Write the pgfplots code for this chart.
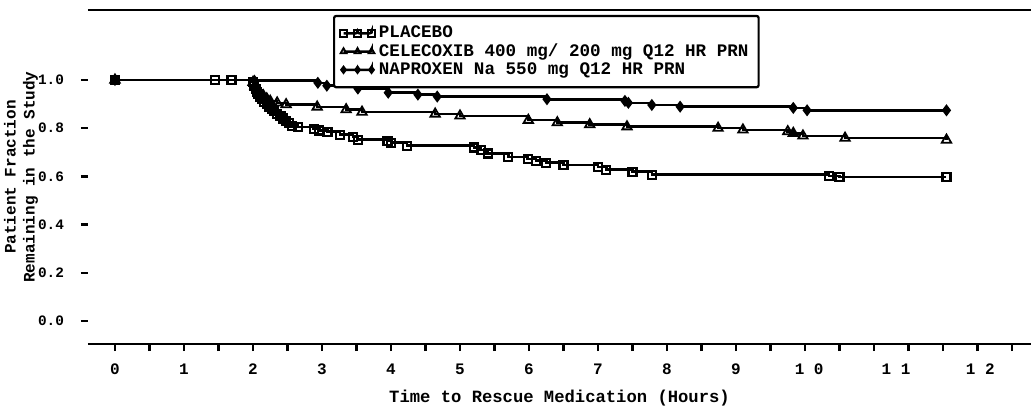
\documentclass[border=0pt]{standalone}
\usepackage{fontspec}
\setmainfont{Liberation Mono}
\usepackage{pgfplots}
\pgfplotsset{compat=1.18}
\begin{document}
\begin{tikzpicture}
\path[use as bounding box] (-44pt,-32.5pt) rectangle (471.5pt,172pt);
\begin{axis}[
  at={(0,0)}, anchor=south west,
  scale only axis, width=471.5pt, height=167pt,
  xmin=-0.391, xmax=13.275, ymin=-0.0954, ymax=1.29,
  axis line style={draw=none},
  clip=false,
  xtick={0,1,2,3,4,5,6,7,8,9,10.06,11.32,12.54},
  xticklabels={0,1,2,3,4,5,6,7,8,9,1 0,1 1,1 2},
  minor xtick={0,0.5,...,13},
  xtick pos=bottom, ytick pos=left,
  major x tick style={draw=none},
  minor x tick style={line width=1.2pt, black},
  minor tick length=3.5pt,
  major tick length=3.5pt,
  tick align=outside,
  ytick={0,0.2,0.4,0.6,0.8,1.0},
  yticklabels={0.0,0.2,0.4,0.6,0.8,1.0},
  major y tick style={line width=1.2pt, black},
  xticklabel style={font=\bfseries\fontsize{8}{8}\selectfont, yshift=-3pt},
  yticklabel style={font=\bfseries\fontsize{7.2}{8}\selectfont, xshift=-5pt},
  xlabel={Time to Rescue Medication (Hours)},
  xlabel style={font=\bfseries\fontsize{8.6}{9}\selectfont, at={(axis description cs:0.5,0)}, anchor=center, yshift=-27pt},
  ylabel={Patient Fraction\\Remaining in the Study},
  ylabel style={align=center, font=\bfseries\fontsize{8}{9.5}\selectfont, at={(axis description cs:-0.071,0.5)}, anchor=center},
  legend image code/.code={\draw[mark repeat=1,mark phase=1,#1,mark size=1.7pt] plot coordinates {(-4pt,0pt) (3pt,0pt) (10pt,0pt)};},
  legend style={at={(axis cs:3.16,1.27)}, anchor=north west, draw=black, line width=1.1pt, rounded corners=1pt,
     font=\bfseries\fontsize{8.8}{9}\selectfont, cells={anchor=west}, row sep=-2.5pt, inner sep=3pt},
]
\draw[line width=1.3pt] (rel axis cs:0,0) -- (rel axis cs:1,0);
\draw[line width=1.3pt] (rel axis cs:0,1) -- (rel axis cs:1,1);

\addplot[const plot, black, line width=1.3pt, mark=square, mark size=2pt, mark options={solid, line width=1.1pt}] coordinates {
(0,1.0) (1.45,1.0) (1.69,1.0) (2.0,0.99) (2.02,0.975) (2.04,0.962) (2.06,0.95) (2.08,0.94) (2.1,0.93) (2.13,0.92) (2.16,0.91) (2.2,0.90) (2.23,0.89) (2.27,0.88) (2.3,0.87) (2.35,0.86) (2.4,0.85) (2.44,0.84) (2.48,0.83) (2.52,0.82) (2.56,0.81) (2.65,0.805) (2.88,0.797) (2.96,0.79) (3.08,0.785) (3.26,0.773) (3.45,0.763) (3.52,0.752) (3.95,0.746) (4.0,0.74) (4.23,0.727) (5.2,0.72) (5.3,0.71) (5.4,0.695) (5.7,0.68) (5.98,0.672) (6.1,0.665) (6.25,0.657) (6.5,0.647) (7.0,0.638) (7.12,0.628) (7.5,0.619) (7.78,0.607) (10.35,0.602) (10.5,0.597) (12.05,0.597)
};
\addlegendentry{PLACEBO}

\addplot[const plot, black, line width=1.3pt, mark=triangle, mark size=2.7pt, mark options={solid, line width=0.9pt}] coordinates {
(0,1.0) (2.0,0.99) (2.03,0.975) (2.06,0.962) (2.1,0.948) (2.15,0.935) (2.2,0.922) (2.25,0.912) (2.35,0.905) (2.48,0.898) (2.93,0.888) (3.35,0.877) (3.58,0.867) (4.64,0.859) (5.0,0.851) (5.99,0.833) (6.41,0.823) (6.88,0.815) (7.42,0.806) (8.74,0.80) (9.1,0.793) (9.75,0.786) (9.83,0.779) (9.97,0.768) (10.58,0.759) (12.05,0.751)
};
\addlegendentry{CELECOXIB 400 mg/ 200 mg Q12 HR PRN}

\addplot[const plot, black, line width=1.3pt, mark=diamond*, mark size=2.4pt, mark options={solid, line width=0.8pt}] coordinates {
(0,1.0) (2.02,0.997) (2.94,0.988) (3.07,0.976) (3.52,0.964) (3.96,0.947) (4.39,0.939) (4.67,0.931) (6.26,0.92) (7.39,0.913) (7.44,0.905) (7.78,0.896) (8.19,0.889) (9.83,0.884) (10.03,0.874) (12.05,0.874)
};
\addlegendentry{NAPROXEN Na 550 mg Q12 HR PRN}
\end{axis}
\end{tikzpicture}
\end{document}
